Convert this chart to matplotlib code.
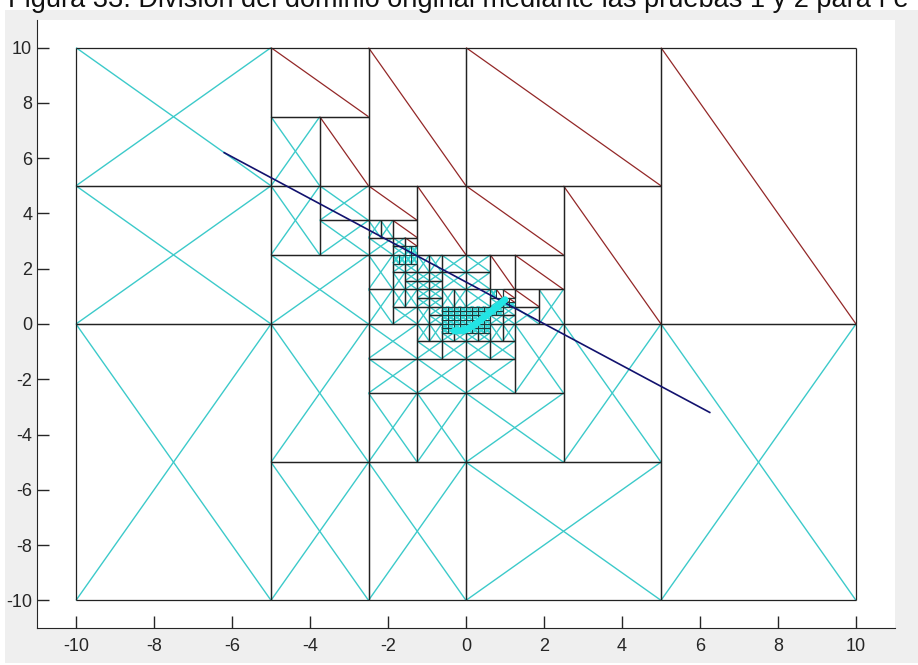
import matplotlib
matplotlib.use("Agg")
import matplotlib.pyplot as plt
from matplotlib import font_manager
from matplotlib.collections import LineCollection
from matplotlib.patches import Rectangle

plt.rcParams["font.family"] = ["Liberation Sans", "DejaVu Sans"]
plt.rcParams["axes.unicode_minus"] = False

# Dominio inicial y resultado de la bisección.
# Código en preorden: S = se divide el rectángulo por su lado mayor (empate -> x),
# primero la mitad inferior/izquierda; X = descartado (prueba 1); R = descartado (prueba 2)
dominio = (-10.0, 10.0, -10.0, 10.0)

fino = "SSXXSXX"                                  # cuadrado dividido en 4 celdas
denso = "S" + "S" + fino + fino + "S" + fino + fino
medio = "S" + ("S" + "X" + fino) + ("S" + "X" + fino)

# x < 0, y < 0
arbol_ii = ("S" + "X"
            + "S" + "SXX"
            + "S" + "X"
            + "S" + "SXX"
            + "S" + "SXX"
            + "S" + "X"
            + "S" + ("S" + "X" + "SXX") + ("S" + "X" + medio))

# x < 0, y > 0, zona central [-2.5, 0] x [0, 5]
c1_izq = ("S"
          + ("S" + "X" + ("S" + "X" + "SXX"))
          + ("S" + "X" + ("S" + ("S" + "X" + "SXX") + ("S" + "SXSXX" + "SXSXX"))))
c1_der = ("S"
          + ("S" + ("S" + "SXSXX" + "SSXXSXX") + ("S" + denso + "SXX"))
          + ("S" + ("S" + "SSXXSXX" + "SXX") + "SXX"))
c2 = ("S"
      + ("S"
         + ("S" + ("S" + "X" + "SXX")
            + ("S" + ("S" + "SXX" + ("S" + "SXX" + "R")) + "R"))
         + "R")
      + "R")
arbol_is = ("S" + "SXX"
            + "S"
            + ("S" + ("S" + "X" + ("S" + "X" + "SXX")) + ("S" + ("S" + c1_izq + c1_der) + c2))
            + ("S" + ("S" + "SXR" + "R") + "R"))

# x > 0, y < 0
arbol_di = ("S"
            + ("S" + "X"
               + ("S"
                  + ("S" + "X"
                     + ("S"
                        + ("S" + "X"
                           + ("S" + ("S" + "X" + medio) + ("S" + "X" + "SXX")))
                        + "X"))
                  + "X"))
            + "X")

# x > 0, y > 0
w9 = "S" + ("S" + "X" + "SXR") + ("S" + ("S" + "SXSRR" + "SXR") + "R")
w5 = ("S"
      + ("S" + ("S" + denso + "X")
         + ("S" + ("S" + ("S" + "X" + fino) + "SXX") + w9))
      + ("S" + "SXX" + "R"))
arbol_ds = ("S"
            + ("S" + ("S" + ("S" + ("S" + w5 + ("S" + ("S" + "SXR" + "X") + "R")) + "R") + "R") + "R")
            + "R")

arbol = "S" + ("S" + arbol_ii + arbol_is) + ("S" + arbol_di + arbol_ds)

# Recta y curva solución
recta_x = [-6.2, 6.25]
recta_y = [6.2, -3.2]
curva_x = [-0.3, -0.05, 0.2, 0.42, 0.63, 0.84, 1.0]
curva_y = [-0.25, -0.24, -0.05, 0.2, 0.44, 0.68, 0.88]

titulo = "Figura 33. División del dominio original mediante las pruebas 1 y 2 para f e"


def hojas(codigo, caja, pos=0, salida=None):
    """Recorre el código en preorden y devuelve las celdas finales."""
    if salida is None:
        salida = []
    x0, x1, y0, y1 = caja
    c = codigo[pos]
    if c != "S":
        salida.append((c, x0, x1, y0, y1))
        return pos + 1, salida
    if (x1 - x0) >= (y1 - y0) - 1e-9:
        xm = (x0 + x1) / 2
        pos, _ = hojas(codigo, (x0, xm, y0, y1), pos + 1, salida)
        pos, _ = hojas(codigo, (xm, x1, y0, y1), pos, salida)
    else:
        ym = (y0 + y1) / 2
        pos, _ = hojas(codigo, (x0, x1, y0, ym), pos + 1, salida)
        pos, _ = hojas(codigo, (x0, x1, ym, y1), pos, salida)
    return pos, salida


fin, celdas = hojas(arbol, dominio)
assert fin == len(arbol)

# las celdas más pequeñas se dibujan con trazo algo distinto
bordes, bordes_finos = [], []
cruces, cruces_finas, diagonales = [], [], []
for tipo, x0, x1, y0, y1 in celdas:
    pequena = (x1 - x0) < 0.2
    lados = [[(x0, y0), (x1, y0)], [(x1, y0), (x1, y1)],
             [(x1, y1), (x0, y1)], [(x0, y1), (x0, y0)]]
    (bordes_finos if pequena else bordes).extend(lados)
    if tipo == "X":
        (cruces_finas if pequena else cruces).extend(
            [[(x0, y0), (x1, y1)], [(x0, y1), (x1, y0)]])
    else:
        diagonales.append([(x0, y1), (x1, y0)])

# Letra estrecha para los números de los ejes si está disponible
fuentes = {f.name for f in font_manager.fontManager.ttflist}
if "Liberation Sans Narrow" in fuentes:
    letra_ejes, tam_ejes = "Liberation Sans Narrow", 15
else:
    letra_ejes, tam_ejes = "Liberation Sans", 13

fig = plt.figure(figsize=(9.18, 6.65), dpi=100, facecolor="#efefef")
ax = fig.add_axes([37 / 918, 1 - 628 / 665, 858 / 918, 608 / 665])

ax.add_collection(LineCollection(cruces, colors="#3ccaca", linewidths=1.0, zorder=1))
ax.add_collection(LineCollection(cruces_finas, colors="#38d4d4", linewidths=1.6, zorder=1))
ax.add_collection(LineCollection(diagonales, colors="#932828", linewidths=0.9, zorder=2))
ax.add_collection(LineCollection(bordes, colors="#222222", linewidths=0.9, zorder=3))
ax.add_collection(LineCollection(bordes_finos, colors="#1f3a3a", linewidths=0.7, zorder=3))
ax.plot(recta_x, recta_y, color="#12126e", linewidth=1.2, zorder=4)
ax.plot(curva_x, curva_y, color="#22e4e4", linewidth=5, solid_capstyle="round", zorder=5)

ax.set_xlim(-11, 11)
ax.set_ylim(-11, 11)
ax.set_xticks(range(-10, 11, 2))
ax.set_yticks(range(-10, 11, 2))
for lado in ("top", "right"):
    ax.spines[lado].set_visible(False)
for lado in ("left", "bottom"):
    ax.spines[lado].set_color("#262626")
ax.tick_params(direction="in", length=8.5, width=1, colors="#262626", labelsize=tam_ejes)
ax.tick_params(axis="x", pad=7.5)
ax.tick_params(axis="y", pad=3.5)
for etiqueta in ax.get_xticklabels() + ax.get_yticklabels():
    etiqueta.set_family([letra_ejes, "DejaVu Sans"])

# franjas blancas del recorte y pie de figura
fig.patches.append(Rectangle((0, 1 - 10 / 665), 1, 10 / 665, transform=fig.transFigure,
                             facecolor="white", edgecolor="none"))
fig.patches.append(Rectangle((0, 0), 5 / 918, 1, transform=fig.transFigure,
                             facecolor="white", edgecolor="none"))
fig.patches.append(Rectangle((0, 0), 1, 2 / 665, transform=fig.transFigure,
                             facecolor="white", edgecolor="none"))
fig.text(8 / 918, 1 - 7 / 665, titulo, fontsize=19.5, va="baseline", ha="left", color="#111111")

fig.savefig("out.png", dpi=100, facecolor=fig.get_facecolor())
